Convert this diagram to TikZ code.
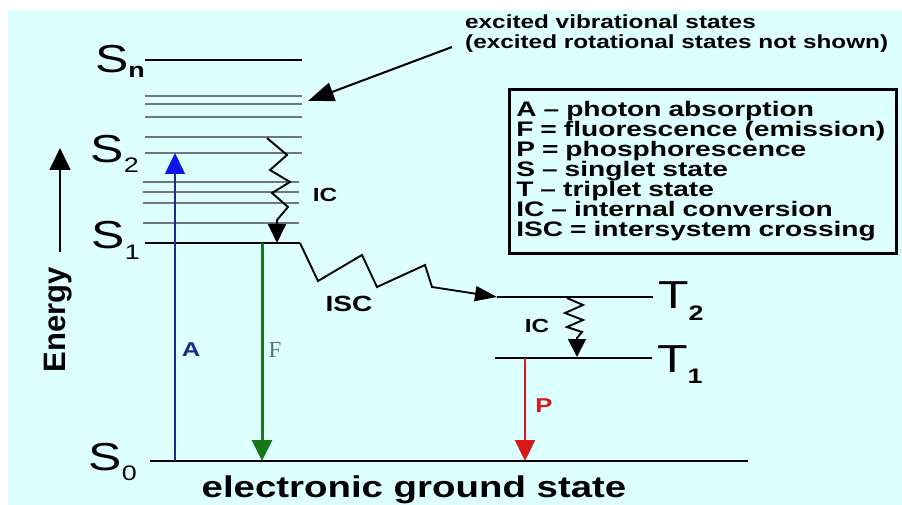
\documentclass[tikz,border=0pt]{standalone}
\usepackage{fontspec}
\setmainfont{Liberation Sans}
\newfontfamily\widesans[FakeStretch=1.28, Ligatures=TeX]{Liberation Sans}
\newfontfamily\legendsans[FakeStretch=1.34, Ligatures=TeX]{Liberation Sans}
\newfontfamily\serifF{Liberation Serif}
\usepackage{tikz}
\usetikzlibrary{arrows.meta, positioning}
\definecolor{bgcyan}{RGB}{222,255,255}
\definecolor{vibgray}{RGB}{112,120,120}
\definecolor{absnavy}{RGB}{32,40,140}
\definecolor{absblue}{RGB}{10,20,235}
\definecolor{flugreen}{RGB}{22,120,22}
\definecolor{flulabel}{RGB}{95,115,95}
\definecolor{phored}{RGB}{215,25,25}
\newcommand{\lowsub}[2]{\raisebox{-#1pt}{\fontsize{21}{21}\selectfont #2}}

\begin{document}
\begin{tikzpicture}[
  x=1pt, y=-1pt,
  level/.style={line width=2.2pt, black},
  vib/.style={line width=2.2pt, vibgray},
  lvllabel/.style={inner sep=0pt, font=\widesans\fontsize{39}{39}\selectfont},
  smalllabel/.style={inner sep=0pt, font=\widesans\bfseries\fontsize{19}{19}\selectfont},
  wiggle/.style={line width=1.9pt, line join=miter, -{Triangle[length=19pt, width=18pt]}},
  radiative/.style={-{Triangle[length=21pt, width=20pt]}},
  legendbox/.style={draw, line width=2.6pt, inner xsep=7pt, inner ysep=0pt, minimum width=387pt, minimum height=164pt, text width=373pt, align=left, font=\legendsans\bfseries\fontsize{21}{20}\selectfont}
]
\useasboundingbox (0,0) rectangle (902,505);
\fill[white] (0,0) rectangle (902,505);
\fill[bgcyan] (8,10) rectangle (902,505);

\coordinate (Snl) at (145,60);  \coordinate (Snr) at (302,60);
\coordinate (S1l) at (145,243); \coordinate (S1r) at (300,243);
\coordinate (S0l) at (150,461); \coordinate (S0r) at (748,461);
\coordinate (T2l) at (497,297); \coordinate (T2r) at (653,297);
\coordinate (T1l) at (495,358); \coordinate (T1r) at (652,358);

\foreach \y in {96,104,117,137,153}
  \draw[vib] (145,\y) -- (302,\y);
\foreach \y in {182,192,203,223}
  \draw[vib] (143,\y) -- (299,\y);

\draw[level] (Snl) -- (Snr);
\draw[level] (S1l) -- (S1r);
\draw[level, line width=1.8pt] (S0l) -- (S0r);
\draw[level] (T2l) -- (T2r);
\draw[level] (T1l) -- (T1r);

\node[lvllabel, anchor=base east] (Sn) at (145,73) {S\lowsub{5}{\bfseries n}};
\node[lvllabel, anchor=base east] (S2) at (139,163) {S\lowsub{10}{2}};
\node[lvllabel, anchor=base east] (S1) at (140,248) {S\lowsub{11}{1}};
\node[lvllabel, anchor=base east] (S0) at (137,470) {S\lowsub{10}{0}};
\node[lvllabel, anchor=base west] (T2) at (658,308) {T\lowsub{12}{\bfseries 2}};
\node[lvllabel, anchor=base west] (T1) at (657,372) {T\lowsub{11}{\bfseries 1}};

\coordinate (absFoot) at (175,461); \coordinate (absHead) at (175,153);
\coordinate (fluTop) at (262,243);  \coordinate (fluFoot) at (262,461);
\coordinate (phoTop) at (525,358);  \coordinate (phoFoot) at (525,461);

\draw[radiative, absnavy, line width=1.5pt, -{Triangle[length=21pt, width=20pt, color=absblue]}] (absFoot) -- (absHead);
\draw[radiative, flugreen, line width=3pt] (fluTop) -- (fluFoot);
\draw[radiative, phored, line width=2.4pt] (phoTop) -- (phoFoot);

\node[inner sep=0pt, text=absnavy, font=\widesans\bfseries\fontsize{20}{20}\selectfont] (A) at (191,350) {A};
\node[inner sep=0pt, text=flulabel, font=\serifF\fontsize{23}{23}\selectfont] (F) at (275,350) {F};
\node[inner sep=0pt, text=phored, font=\widesans\bfseries\fontsize{20}{20}\selectfont] (P) at (544,406) {P};

\coordinate (icTop) at (267,138); \coordinate (icFoot) at (277,243);
\draw[wiggle] (icTop) -- (287,155) -- (270,170) -- (290,182) -- (272,193) -- (288,207) -- (277,220) -- (icFoot);
\node[smalllabel] (IC) at (325,195) {IC};

\draw[wiggle, -{Triangle[length=22pt, width=15pt]}] (S1r) -- (318,281) -- (362,255) -- (377,287) -- (425,265) -- (432,287) -- (T2l);
\node[smalllabel, font=\widesans\bfseries\fontsize{22}{22}\selectfont] (ISC) at (349,304) {ISC};

\coordinate (ictTop) at (567,298); \coordinate (ictFoot) at (577,357);
\draw[wiggle, -{Triangle[length=18pt, width=18pt]}] (ictTop) -- (583,305) -- (565,313) -- (583,320) -- (567,327) -- (582,332) -- (577,338) -- (ictFoot);
\node[smalllabel] (ICt) at (537,326) {IC};

\node[legendbox, anchor=north west] (legend) at (508,88) {A – photon absorption\\
F = fluorescence (emission)\\
P = phosphorescence\\
S – singlet state\\
T – triplet state\\
IC – internal conversion\\
ISC = intersystem crossing};

\node[inner sep=0pt, anchor=north west, align=left, font=\widesans\bfseries\fontsize{19}{20}\selectfont] (note) at (465,15) {excited vibrational states\\(excited rotational states not shown)};
\coordinate (noteTail) at (452,47); \coordinate (vibTip) at (308,101);
\draw[line width=2pt, -{Triangle[length=26pt, width=19pt]}] (noteTail) -- (vibTip);

\node[inner sep=0pt, anchor=base, font=\widesans\bfseries\fontsize{30}{30}\selectfont] (ground) at (414,497) {electronic ground state};

\node[inner sep=0pt, anchor=base, rotate=90, font=\bfseries\fontsize{31}{31}\selectfont] (energy) at (65,320) {Energy};
\coordinate (Efoot) at (60,252); \coordinate (Ehead) at (60,148);
\draw[line width=1.6pt, -{Triangle[length=22pt, width=21pt]}] (Efoot) -- (Ehead);
\end{tikzpicture}
\end{document}
